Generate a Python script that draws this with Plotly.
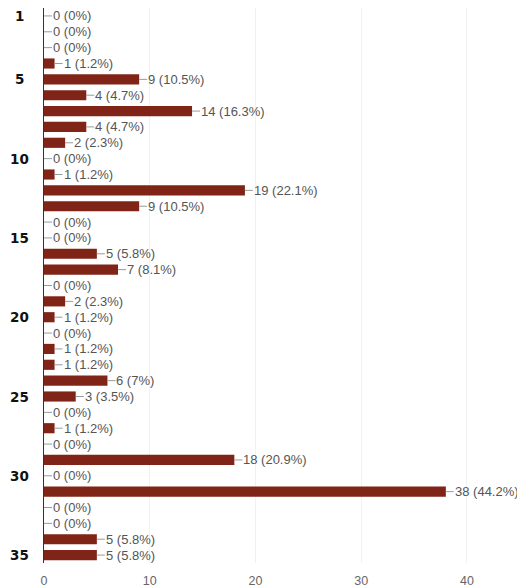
import plotly.graph_objects as go

categories = list(range(1, 36))
counts = [0, 0, 0, 1, 9, 4, 14, 4, 2, 0,
          1, 19, 9, 0, 0, 5, 7, 0, 2, 1,
          0, 1, 1, 6, 3, 0, 1, 0, 18, 0,
          38, 0, 0, 5, 5]
percents = ["0%", "0%", "0%", "1.2%", "10.5%", "4.7%", "16.3%", "4.7%", "2.3%", "0%",
            "1.2%", "22.1%", "10.5%", "0%", "0%", "5.8%", "8.1%", "0%", "2.3%", "1.2%",
            "0%", "1.2%", "1.2%", "7%", "3.5%", "0%", "1.2%", "0%", "20.9%", "0%",
            "44.2%", "0%", "0%", "5.8%", "5.8%"]
y_tick_labels = [1, 5, 10, 15, 20, 25, 30, 35]
x_ticks = [0, 10, 20, 30, 40]

BAR = "#7f2416"

fig = go.Figure()
fig.add_trace(go.Bar(
    x=counts, y=categories, orientation="h",
    marker=dict(color=BAR, line=dict(width=0)),
    hoverinfo="skip",
))

annotations = []
for c, v, p in zip(categories, counts, percents):
    annotations.append(dict(
        x=v, y=c, xref="x", yref="y",
        text=f"{v} ({p})", showarrow=True, arrowhead=0, arrowwidth=1,
        arrowcolor="#9a9a9a", ax=8, ay=0, xanchor="left", yanchor="middle",
        font=dict(family="Liberation Sans, Arial, sans-serif", size=13, color="#555555"),
        borderpad=0,
    ))
for t in y_tick_labels:
    annotations.append(dict(
        x=0, y=t, xref="paper", yref="y", xshift=-25, showarrow=False,
        text=f"<b>{t}</b>", xanchor="center", yanchor="middle",
        font=dict(family="DejaVu Sans, Verdana, sans-serif", size=13.5, color="#111111"),
    ))

fig.update_layout(
    width=517, height=580,
    margin=dict(l=36, r=10, t=0, b=25),
    paper_bgcolor="white", plot_bgcolor="white",
    bargap=0.36,
    showlegend=False,
    annotations=annotations,
    xaxis=dict(
        range=[0, 44.54], tickvals=x_ticks, showgrid=True, gridcolor="#f1f1f1",
        gridwidth=1, zeroline=False, showline=False, ticks="", automargin=False,
        tickfont=dict(family="Liberation Sans, Arial, sans-serif", size=12.5, color="#666666"),
        ticklabelstandoff=8,
    ),
    yaxis=dict(
        range=[35.5, 0.5], showticklabels=False, showgrid=False, zeroline=False,
        showline=True, linecolor="#333333", linewidth=1, ticks="", automargin=False,
    ),
)

fig.write_html("out.html")
